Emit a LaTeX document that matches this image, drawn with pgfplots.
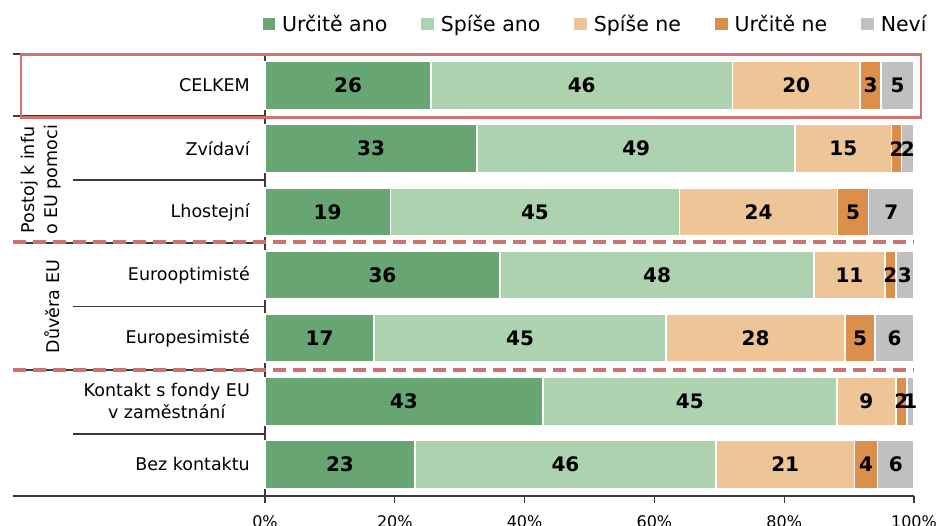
\documentclass[border=0pt]{standalone}
\usepackage{pgfplots}
\pgfplotsset{compat=1.18}
\usepackage{pgfplotstable}
\usepackage{fontspec}
\setmainfont{DejaVu Sans}
\definecolor{cA}{HTML}{67A673}
\definecolor{cB}{HTML}{ADD2B0}
\definecolor{cC}{HTML}{EDC596}
\definecolor{cD}{HTML}{DB8F4A}
\definecolor{cE}{HTML}{C0C0C0}
\definecolor{redl}{HTML}{D0716E}
\definecolor{sep}{HTML}{3A3A3A}
% rows: 6 = CELKEM (top) ... 0 = Bez kontaktu (bottom)
\pgfplotstableread{
row a b c d e
6 25.6 46.4 19.7 3.2 5.1
5 32.7 49.0 14.8 1.6 1.9
4 19.3 44.6 24.3 4.8 7.0
3 36.2 48.4 10.9 1.7 2.8
2 16.8 45.0 27.6 4.6 6.0
1 42.8 45.3 9.1 1.7 1.1
0 23.1 46.4 21.3 3.6 5.6
}\datatable
\begin{document}
\begin{tikzpicture}[x=1pt,y=1pt]
\begin{axis}[
  at={(265pt,-496pt)}, anchor=south west,
  scale only axis, width=649pt, height=442pt,
  xbar stacked, bar width=48pt,
  xmin=0, xmax=100, ymin=-0.5, ymax=6.5,
  axis x line*=bottom, axis y line*=left,
  axis line style={sep, line width=1.1pt},
  xtick={0,20,...,100},
  xticklabel={\pgfmathprintnumber{\tick}\%},
  /pgf/number format/assume math mode=true,
  xticklabel style={font=\fontsize{16}{19}\selectfont, yshift=-9pt},
  x tick style={sep, line width=1.1pt},
  tick align=outside, major tick length=7pt,
  ytick={0,...,6},
  yticklabels={Bez kontaktu,{Kontakt s fondy EU\\v zaměstnání},Europesimisté,Eurooptimisté,Lhostejní,Zvídaví,CELKEM},
  y tick style={draw=none},
  yticklabel style={align=center, anchor=east, inner sep=0pt, xshift=-8pt, font=\fontsize{17.5}{22}\selectfont},
  point meta=explicit,
  nodes near coords={\pgfmathprintnumber[fixed,precision=0]{\pgfplotspointmeta}},
  every node near coord/.append style={font=\bfseries\fontsize{20}{24}\selectfont, text=black},
  legend columns=5,
  legend image code/.code={\fill[#1,draw=none] (0pt,-6.5pt) rectangle (12.5pt,6pt);},
  legend style={draw=none, fill=none, at={(-0.004,1.068)}, anchor=west, inner sep=0pt,
    font=\fontsize{20.5}{24}\selectfont,
    /tikz/every odd column/.append style={column sep=5pt},
    /tikz/every even column/.append style={column sep=32pt}},
  legend cell align=left,
  clip=false,
]
\addplot[fill=cA, draw=white, line width=1.5pt] table[x=a, y=row, meta=a] {\datatable};
\addplot[fill=cB, draw=white, line width=1.5pt] table[x=b, y=row, meta=b] {\datatable};
\addplot[fill=cC, draw=white, line width=1.5pt] table[x=c, y=row, meta=c] {\datatable};
\addplot[fill=cD, draw=white, line width=1.5pt] table[x=d, y=row, meta=d] {\datatable};
\addplot[fill=cE, draw=white, line width=1.5pt] table[x=e, y=row, meta=e] {\datatable};
\legend{Určitě ano, Spíše ano, Spíše ne, Určitě ne, Neví}
\end{axis}
% separators
\draw[sep, line width=1.1pt] (13,-54) -- (265,-54);
\draw[sep, line width=1.1pt] (13,-116) -- (265,-116);
\draw[sep, line width=1.1pt] (73,-180) -- (265,-180);
\draw[sep, line width=1.1pt] (13,-243) -- (265,-243);
\draw[sep, line width=1.1pt] (73,-306.5) -- (265,-306.5);
\draw[sep, line width=1.1pt] (13,-370) -- (265,-370);
\draw[sep, line width=1.1pt] (73,-434) -- (265,-434);
\draw[sep, line width=1.1pt] (13,-496) -- (265,-496);
\draw[redl, line width=4pt, dash pattern=on 13pt off 7pt] (13,-242.5) -- (914,-242.5);
\draw[redl, line width=4pt, dash pattern=on 13pt off 7pt] (13,-370) -- (914,-370);
\draw[redl, line width=2.5pt] (21,-54.5) rectangle (921,-117.5);
\node[rotate=90, align=center, font=\fontsize{17.5}{23}\selectfont] at (41,-180) {Postoj k infu\\o EU pomoci};
\node[rotate=90, font=\fontsize{17.5}{22}\selectfont] at (52,-306.5) {Důvěra EU};
\pgfresetboundingbox
\path[use as bounding box] (0,0) rectangle (939,-526);
\end{tikzpicture}
\end{document}
